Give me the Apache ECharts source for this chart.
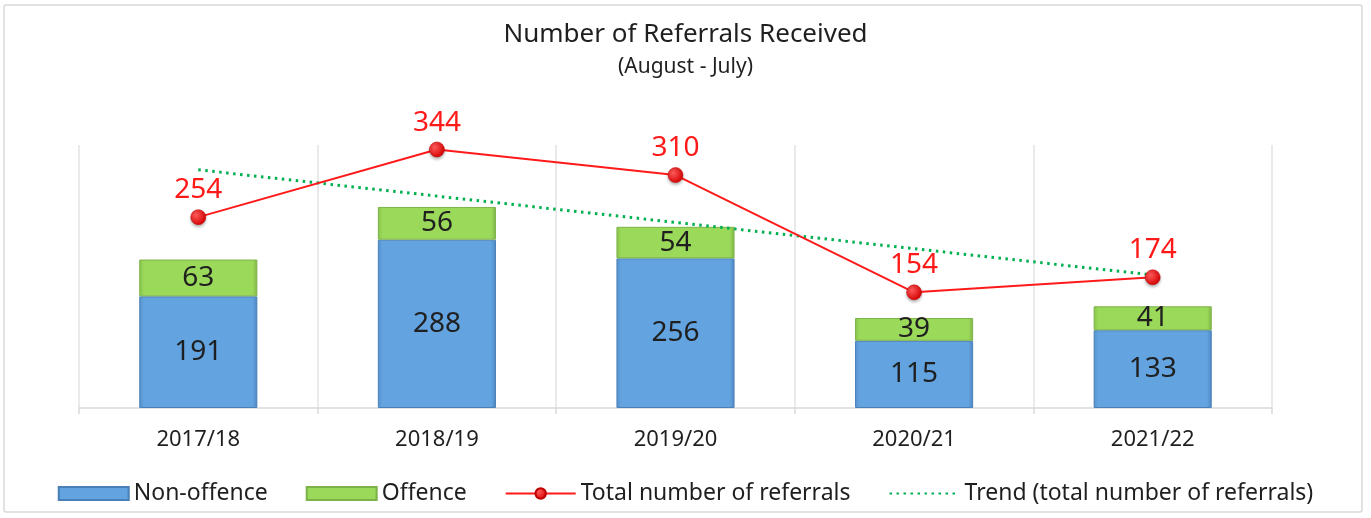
<!DOCTYPE html>
<html>
<head>
<meta charset="utf-8">
<script src="https://cdn.jsdelivr.net/npm/echarts@6/dist/echarts.min.js"></script>
<style>
  html, body { margin: 0; padding: 0; background: #ffffff; }
  #chart { width: 1371px; height: 518px; }
</style>
</head>
<body>
<div id="chart"></div>
<script>
// Referral counts per reporting year (August - July)
const years = ['2017/18', '2018/19', '2019/20', '2020/21', '2021/22'];
const nonOffence = [191, 288, 256, 115, 133];
const offence = [63, 56, 54, 39, 41];
const totalReferrals = [254, 344, 310, 154, 174];
const trendTotals = [317, 282, 247, 212, 177];

const FONT = '"Noto Sans", "Open Sans", sans-serif';
const INK = '#1f1f1f';

const chart = echarts.init(document.getElementById('chart'), null, { renderer: 'canvas' });

const blueFill = new echarts.graphic.LinearGradient(0, 0, 1, 0, [
  { offset: 0, color: '#5791cc' },
  { offset: 0.04, color: '#62a3e0' },
  { offset: 0.96, color: '#62a3e0' },
  { offset: 1, color: '#4f86bf' }
]);
const greenFill = new echarts.graphic.LinearGradient(0, 0, 1, 0, [
  { offset: 0, color: '#86c24a' },
  { offset: 0.04, color: '#9bd95a' },
  { offset: 0.96, color: '#9bd95a' },
  { offset: 1, color: '#7fb446' }
]);

chart.setOption({
  animation: false,
  backgroundColor: '#ffffff',
  title: {
    text: 'Number of Referrals Received',
    subtext: '(August - July)',
    left: 'center',
    top: 17,
    itemGap: 9,
    textStyle: { fontFamily: FONT, fontSize: 26, fontWeight: 'normal', color: INK },
    subtextStyle: { fontFamily: FONT, fontSize: 21, color: INK }
  },
  legend: {
    bottom: 8,
    left: 'center',
    itemWidth: 70,
    itemHeight: 13,
    itemGap: 38,
    textStyle: { fontFamily: FONT, fontSize: 23, color: INK },
    data: [
      { name: 'Non-offence', icon: 'rect' },
      { name: 'Offence', icon: 'rect' },
      { name: 'Total number of referrals' },
      { name: 'Trend (total number of referrals)', itemStyle: { color: 'rgba(0,0,0,0)', borderWidth: 0 } }
    ]
  },
  grid: { left: 79, right: 99, top: 145, bottom: 110 },
  xAxis: {
    type: 'category',
    data: years,
    boundaryGap: true,
    axisLine: { lineStyle: { color: '#d9d9d9', width: 1.5 } },
    axisTick: { show: true, length: 6, lineStyle: { color: '#d9d9d9', width: 1.5 } },
    splitLine: { show: true, lineStyle: { color: '#e3e3e3', width: 1.5 } },
    axisLabel: { fontFamily: FONT, fontSize: 22, color: INK, margin: 21 }
  },
  yAxis: [
    { type: 'value', min: 0, max: 450, show: false, splitLine: { show: false } },
    { type: 'value', min: 0, max: 350, show: false, splitLine: { show: false } }
  ],
  series: [
    {
      name: 'Non-offence',
      type: 'bar',
      stack: 'referrals',
      yAxisIndex: 0,
      barWidth: '49.5%',
      data: nonOffence,
      itemStyle: { color: blueFill, borderColor: '#4a80b8', borderWidth: 1 },
      label: { show: true, position: 'inside', fontFamily: FONT, fontSize: 28, color: INK }
    },
    {
      name: 'Offence',
      type: 'bar',
      stack: 'referrals',
      yAxisIndex: 0,
      barWidth: '49.5%',
      data: offence,
      itemStyle: { color: greenFill, borderColor: '#7db24a', borderWidth: 1 },
      label: { show: true, position: 'inside', fontFamily: FONT, fontSize: 28, color: INK }
    },
    {
      name: 'Total number of referrals',
      type: 'line',
      yAxisIndex: 1,
      data: totalReferrals,
      symbol: 'circle',
      symbolSize: 15,
      z: 5,
      lineStyle: { color: '#ff1a1a', width: 2 },
      itemStyle: {
        color: new echarts.graphic.RadialGradient(0.35, 0.35, 0.7, [
          { offset: 0, color: '#ff5a5a' },
          { offset: 1, color: '#d40000' }
        ]),
        borderColor: '#c00000',
        borderWidth: 0.5,
        shadowColor: 'rgba(0,0,0,0.3)',
        shadowBlur: 3,
        shadowOffsetY: 2
      },
      label: { show: true, position: 'top', distance: 5, fontFamily: FONT, fontSize: 28, color: '#ff1a1a' }
    },
    {
      name: 'Trend (total number of referrals)',
      type: 'line',
      yAxisIndex: 1,
      data: trendTotals,
      symbol: 'none',
      z: 4,
      itemStyle: { color: '#00b050' },
      lineStyle: { color: '#00b050', width: 3, type: [2.5, 4.5] }
    }
  ],
  graphic: [
    {
      type: 'rect',
      shape: { x: 4, y: 5, width: 1358, height: 507, r: 2 },
      style: { fill: 'none', stroke: '#d9d9d9', lineWidth: 1.5 },
      silent: true,
      z: -1
    }
  ]
});
</script>
</body>
</html>
